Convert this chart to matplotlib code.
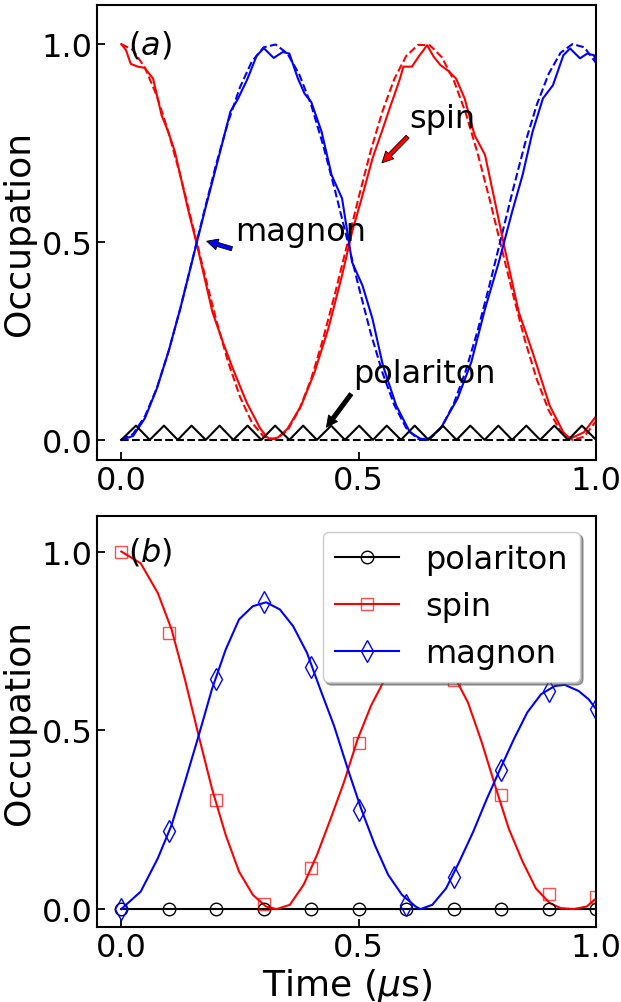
import matplotlib
matplotlib.use("Agg")
import matplotlib.pyplot as plt
from matplotlib.lines import Line2D

# ---- panel (a): numerical (solid) vs analytic (dashed) ----
SPIN_A_T = [0, 0.01, 0.02, 0.035, 0.049, 0.067, 0.085, 0.099, 0.113, 0.142, 0.16, 0.192,
            0.214, 0.235, 0.264, 0.293, 0.307, 0.314, 0.33, 0.35, 0.379, 0.407, 0.436,
            0.465, 0.486, 0.508, 0.529, 0.551, 0.565, 0.587, 0.594, 0.612, 0.626, 0.644,
            0.658, 0.672, 0.687, 0.705, 0.723, 0.744, 0.766, 0.787, 0.809, 0.837, 0.866,
            0.902, 0.931, 0.945, 0.974, 1.0]
SPIN_A_V = [1.0, 0.985, 0.95, 0.943, 0.94, 0.913, 0.82, 0.778, 0.728, 0.576, 0.49, 0.323,
            0.247, 0.18, 0.095, 0.028, 0.007, 0.002, 0.006, 0.028, 0.087, 0.171, 0.281,
            0.416, 0.525, 0.618, 0.711, 0.787, 0.837, 0.913, 0.943, 0.943, 0.968, 0.997,
            0.968, 0.947, 0.934, 0.913, 0.863, 0.77, 0.72, 0.601, 0.475, 0.323, 0.222,
            0.087, 0.019, 0.003, 0.019, 0.06]

MAG_A_T = [0, 0.025, 0.05, 0.075, 0.1, 0.125, 0.15, 0.175, 0.2, 0.215, 0.23, 0.245,
           0.265, 0.285, 0.3, 0.321, 0.34, 0.354, 0.372, 0.386, 0.4, 0.422, 0.443, 0.465,
           0.486, 0.508, 0.529, 0.551, 0.579, 0.608, 0.63, 0.644, 0.672, 0.708, 0.737,
           0.766, 0.795, 0.823, 0.845, 0.866, 0.888, 0.909, 0.931, 0.945, 0.966, 0.981,
           0.995, 1.0]
MAG_A_V = [0, 0.01, 0.055, 0.13, 0.225, 0.335, 0.455, 0.575, 0.69, 0.76, 0.83, 0.86,
           0.91, 0.97, 0.99, 0.965, 0.98, 0.976, 0.913, 0.875, 0.854, 0.778, 0.669, 0.61,
           0.449, 0.39, 0.306, 0.188, 0.087, 0.019, 0.003, 0.0, 0.028, 0.104, 0.196,
           0.331, 0.449, 0.576, 0.669, 0.778, 0.863, 0.896, 0.972, 0.989, 0.964, 0.976,
           0.972, 0.955]

DASH_T = [0, 0.025, 0.05, 0.075, 0.1, 0.125, 0.15, 0.175, 0.2, 0.225, 0.25, 0.275, 0.3,
          0.325, 0.35, 0.375, 0.4, 0.425, 0.45, 0.475, 0.5, 0.525, 0.55, 0.575, 0.6,
          0.625, 0.65, 0.675, 0.7, 0.725, 0.75, 0.775, 0.8, 0.825, 0.85, 0.875, 0.9,
          0.925, 0.95, 0.975, 1.0]
SPIN_DASH = [1.0, 0.985, 0.94, 0.869, 0.775, 0.665, 0.544, 0.421, 0.303, 0.197, 0.109,
             0.044, 0.008, 0.001, 0.024, 0.077, 0.154, 0.255, 0.369, 0.49, 0.613, 0.729,
             0.83, 0.912, 0.97, 0.998, 0.997, 0.967, 0.909, 0.827, 0.726, 0.611, 0.489,
             0.367, 0.252, 0.153, 0.075, 0.022, 0.0, 0.008, 0.048]
MAG_DASH = [0.0, 0.015, 0.06, 0.131, 0.225, 0.335, 0.456, 0.579, 0.697, 0.803, 0.891,
            0.956, 0.992, 0.999, 0.976, 0.923, 0.846, 0.745, 0.631, 0.51, 0.387, 0.271,
            0.17, 0.088, 0.03, 0.002, 0.003, 0.033, 0.091, 0.173, 0.274, 0.389, 0.511,
            0.633, 0.748, 0.847, 0.925, 0.978, 1.0, 0.992, 0.952]

POL_A_T = [0, 0.031, 0.060, 0.090, 0.119, 0.148, 0.178, 0.207, 0.236, 0.266, 0.295,
           0.324, 0.354, 0.383, 0.412, 0.442, 0.471, 0.501, 0.530, 0.559, 0.589, 0.618,
           0.647, 0.677, 0.706, 0.735, 0.765, 0.794, 0.823, 0.853, 0.882, 0.912, 0.941,
           0.970, 1.0]
POL_A_V = [0, 0.036, 0.0, 0.036, 0.0, 0.036, 0.0, 0.036, 0.0, 0.036, 0.0, 0.036, 0.0,
           0.036, 0.0, 0.036, 0.0, 0.036, 0.0, 0.036, 0.0, 0.036, 0.0, 0.036, 0.0, 0.036,
           0.0, 0.036, 0.0, 0.036, 0.0, 0.036, 0.0, 0.036, 0.0]
POL_DASH_T = [0, 1.0]
POL_DASH_V = [0, 0]

# ---- panel (b): lines and sampled markers ----
SPIN_B_T = [0, 0.041, 0.077, 0.106, 0.134, 0.163, 0.191, 0.22, 0.248, 0.277, 0.305, 0.327,
            0.355, 0.384, 0.412, 0.441, 0.469, 0.498, 0.526, 0.555, 0.585, 0.61, 0.635,
            0.66, 0.685, 0.708, 0.73, 0.759, 0.787, 0.816, 0.845, 0.873, 0.902, 0.925,
            0.952, 0.98, 1.0]
SPIN_B_V = [1.0, 0.967, 0.884, 0.782, 0.643, 0.485, 0.337, 0.207, 0.105, 0.04, 0.007, 0.0,
            0.012, 0.068, 0.151, 0.253, 0.355, 0.476, 0.569, 0.643, 0.70, 0.735, 0.75,
            0.74, 0.70, 0.634, 0.578, 0.467, 0.346, 0.225, 0.133, 0.058, 0.017, 0.003,
            0.0, 0.007, 0.03]
MAG_B_T = [0, 0.041, 0.077, 0.106, 0.134, 0.163, 0.191, 0.22, 0.248, 0.277, 0.305, 0.334,
           0.362, 0.391, 0.419, 0.448, 0.477, 0.505, 0.534, 0.562, 0.591, 0.62, 0.63,
           0.655, 0.684, 0.712, 0.741, 0.77, 0.798, 0.827, 0.855, 0.884, 0.913, 0.934,
           0.963, 0.984, 1.0]
MAG_B_V = [0, 0.049, 0.142, 0.235, 0.355, 0.485, 0.615, 0.726, 0.81, 0.847, 0.858, 0.838,
           0.791, 0.717, 0.615, 0.513, 0.392, 0.281, 0.179, 0.096, 0.04, 0.007, 0.0,
           0.012, 0.058, 0.133, 0.216, 0.309, 0.392, 0.476, 0.55, 0.601, 0.624, 0.627,
           0.61, 0.587, 0.559]
POL_B_T = [0, 1.0]
POL_B_V = [0, 0]

MK_T = [0, 0.1, 0.2, 0.3, 0.4, 0.5, 0.6, 0.7, 0.8, 0.9, 1.0]
MK_POL = [0, 0, 0, 0, 0, 0, 0, 0, 0, 0, 0]
MK_SPIN = [1.0, 0.773, 0.306, 0.014, 0.114, 0.464, 0.72, 0.641, 0.318, 0.042, 0.035]
MK_MAG = [0.0, 0.219, 0.643, 0.858, 0.677, 0.276, 0.012, 0.089, 0.388, 0.61, 0.559]

LABELS = ["polariton", "spin", "magnon"]

FS = 23


def style_axes(ax):
    ax.set_xlim(-0.05, 1.0)
    ax.set_ylim(-0.05, 1.1)
    ax.set_xticks([0.0, 0.5, 1.0])
    ax.set_yticks([0.0, 0.5, 1.0])
    ax.tick_params(direction="in", length=6, width=1.3, labelsize=FS,
                   top=False, right=False)
    for sp in ax.spines.values():
        sp.set_linewidth(1.5)
    ax.set_ylabel("Occupation", fontsize=26)


def arrow(ax, head, tail, color):
    ax.annotate("", xy=head, xytext=tail,
                arrowprops=dict(facecolor=color, edgecolor="black", linewidth=0.6,
                                width=3, headwidth=8, headlength=8, shrink=0.0))


def main():
    fig = plt.figure(figsize=(6.21, 10.03), dpi=100)
    ax1 = fig.add_axes([0.157, 0.5407, 0.803, 0.4538])
    ax2 = fig.add_axes([0.157, 0.0748, 0.803, 0.41])

    # panel (a)
    ax1.plot(DASH_T, SPIN_DASH, "r--", lw=1.5)
    ax1.plot(DASH_T, MAG_DASH, "b--", lw=1.5)
    ax1.plot(POL_DASH_T, POL_DASH_V, "k--", lw=1.5)
    ax1.plot(SPIN_A_T, SPIN_A_V, "r-", lw=1.5)
    ax1.plot(MAG_A_T, MAG_A_V, "b-", lw=1.5)
    ax1.plot(POL_A_T, POL_A_V, "k-", lw=1.5)
    style_axes(ax1)

    ax1.text(0.015, 1.0, "$(a)$", fontsize=FS, va="center")
    ax1.text(0.607, 0.791, "spin", fontsize=FS)
    ax1.text(0.24, 0.504, "magnon", fontsize=FS)
    ax1.text(0.489, 0.146, "polariton", fontsize=FS)
    arrow(ax1, (0.549, 0.70), (0.603, 0.766), "red")
    arrow(ax1, (0.18, 0.502), (0.233, 0.483), "blue")
    arrow(ax1, (0.432, 0.032), (0.484, 0.116), "black")

    # panel (b)
    ax2.plot(POL_B_T, POL_B_V, "k-", lw=1.5)
    ax2.plot(SPIN_B_T, SPIN_B_V, "r-", lw=1.5)
    ax2.plot(MAG_B_T, MAG_B_V, "b-", lw=1.5)
    ax2.plot(MK_T, MK_POL, "o", ms=9, mfc="none", mec="black", mew=1)
    ax2.plot(MK_T, MK_SPIN, "s", ms=9, mfc="none", mec="red", mew=1, alpha=0.7)
    ax2.plot(MK_T, MK_MAG, "d", ms=11, mfc="none", mec="blue", mew=1)
    style_axes(ax2)
    ax2.set_xlabel("Time ($\\mu$s)", fontsize=26, labelpad=2)
    ax2.text(0.015, 1.0, "$(b)$", fontsize=FS, va="center")

    handles = [
        Line2D([], [], color="black", lw=1.5, marker="o", ms=9, mfc="none", mew=1),
        Line2D([], [], color="red", lw=1.5, marker="s", ms=9, mfc="none", mew=1,
               mec=(1, 0, 0, 0.7)),
        Line2D([], [], color="blue", lw=1.5, marker="d", ms=11, mfc="none", mew=1),
    ]
    leg = ax2.legend(handles, LABELS, loc="upper right", fontsize=FS, numpoints=1,
                     shadow=True, fancybox=True, framealpha=1, labelspacing=0.5)
    leg.set_zorder(10)

    fig.savefig("out.png", dpi=100)


if __name__ == "__main__":
    main()
